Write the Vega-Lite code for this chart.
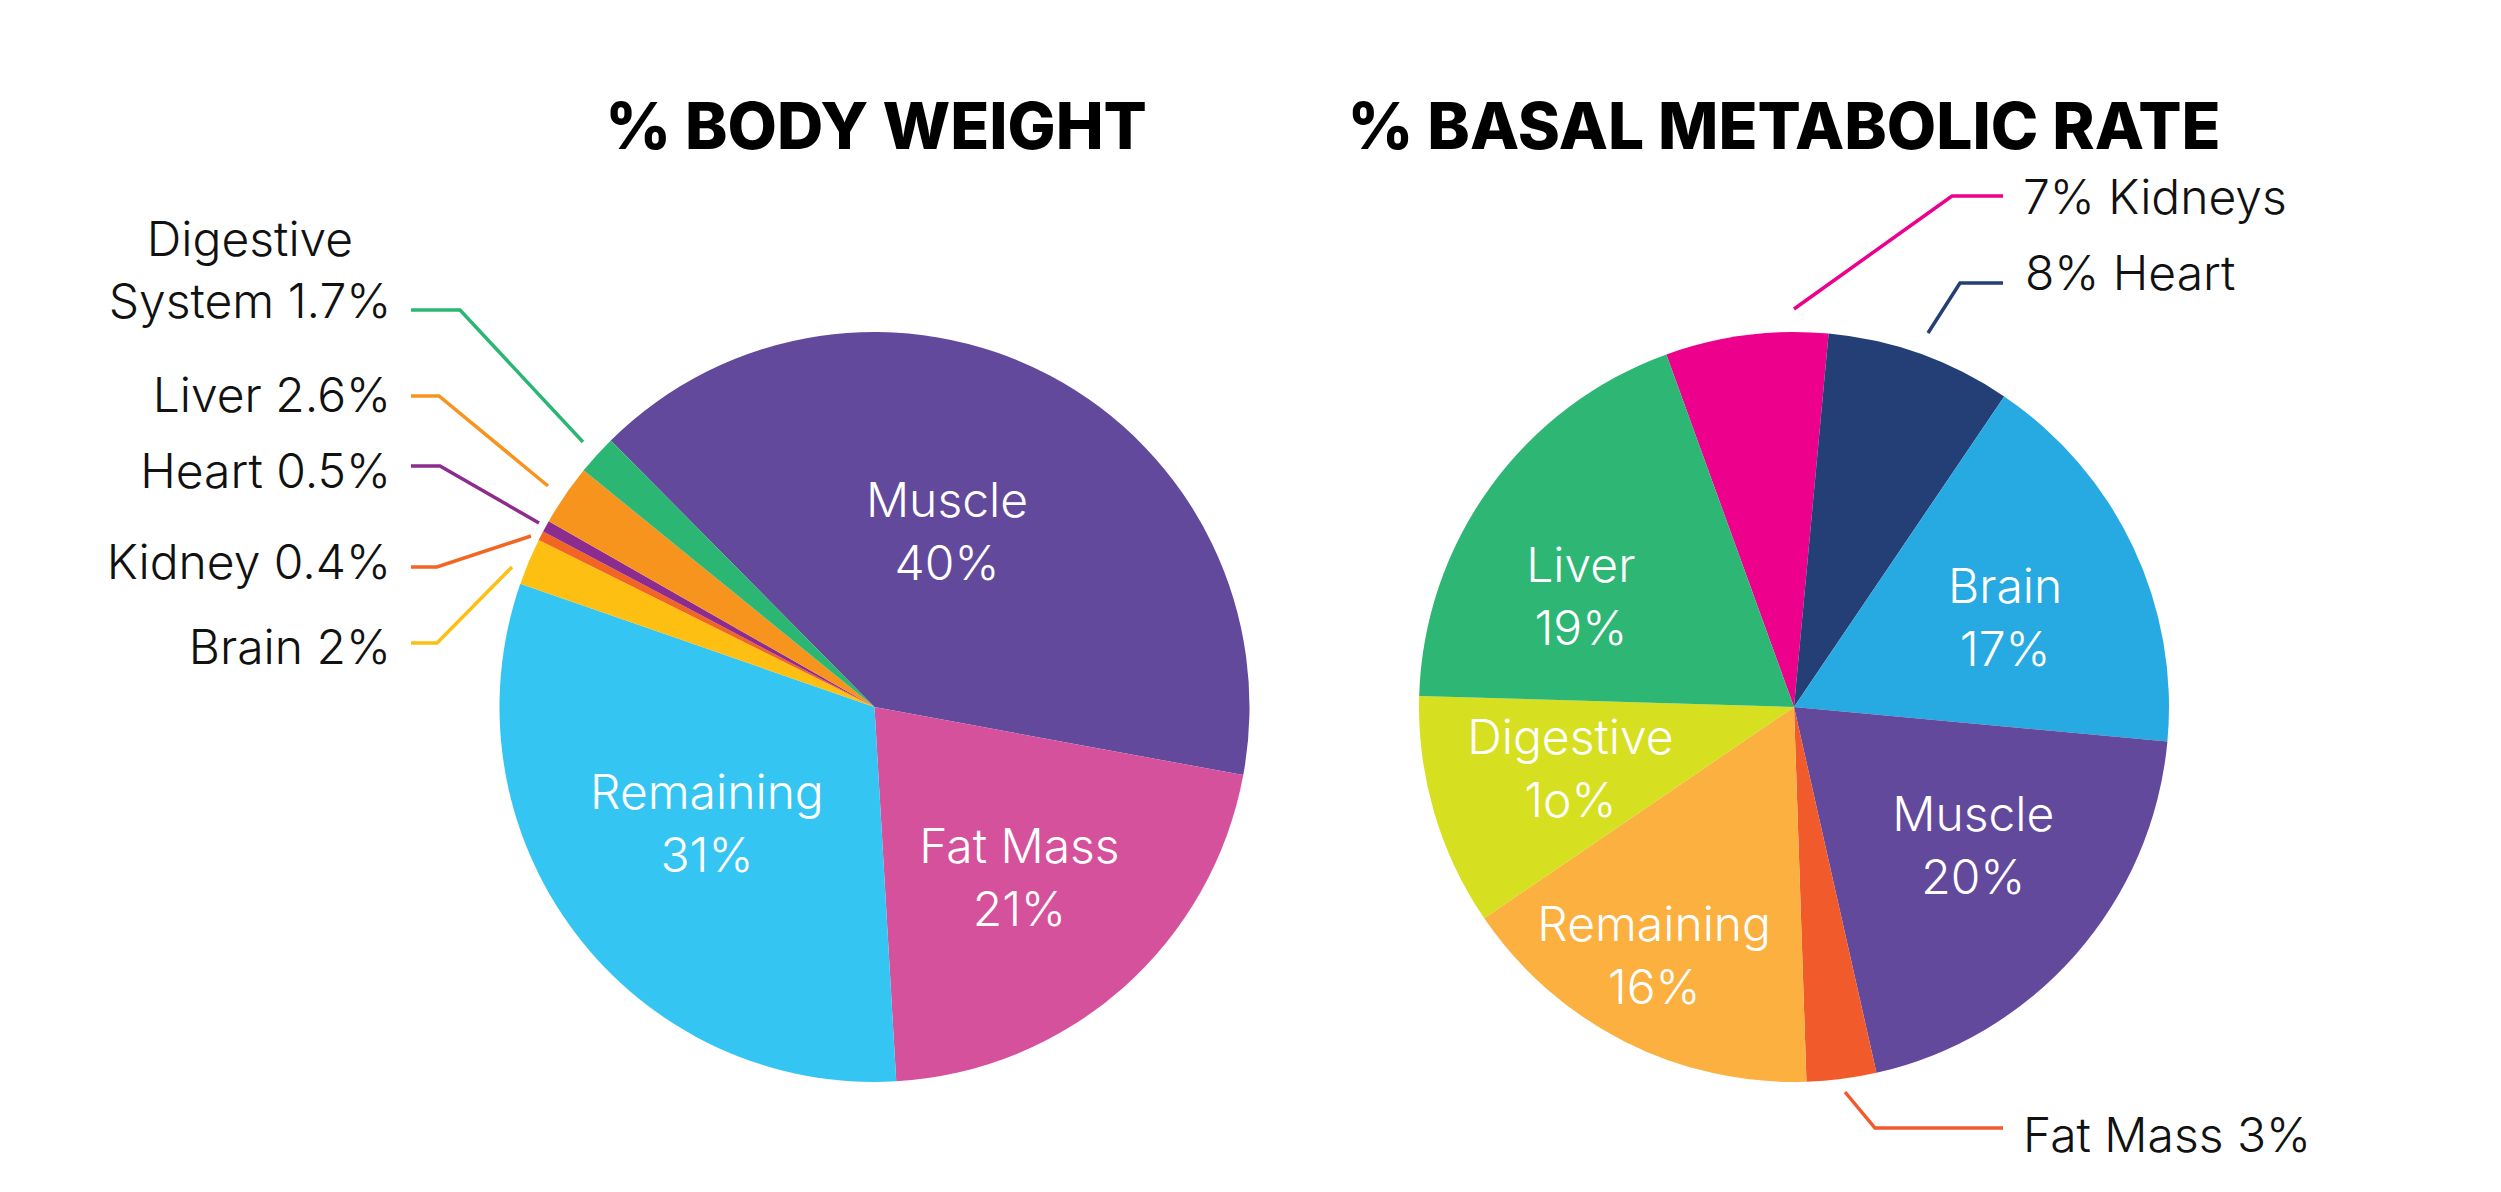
{
  "$schema": "https://vega.github.io/schema/vega-lite/v6.json",
  "width": 2501,
  "height": 1192,
  "autosize": {"type": "fit", "contains": "padding"},
  "padding": 0,
  "background": "white",
  "config": {"view": {"stroke": null}},
  "datasets": {
    "bw": [
      {"part": "Muscle", "pct": 40, "ord": 1, "label": "Muscle\n40%"},
      {"part": "Fat Mass", "pct": 21, "ord": 2, "label": "Fat Mass\n21%"},
      {"part": "Remaining", "pct": 31, "ord": 3, "label": "Remaining\n31%"},
      {"part": "Brain", "pct": 2, "ord": 4, "label": "Brain 2%"},
      {"part": "Kidney", "pct": 0.4, "ord": 5, "label": "Kidney 0.4%"},
      {"part": "Heart", "pct": 0.5, "ord": 6, "label": "Heart 0.5%"},
      {"part": "Liver", "pct": 2.6, "ord": 7, "label": "Liver 2.6%"},
      {"part": "Digestive System", "pct": 1.7, "ord": 8, "label": "Digestive\nSystem 1.7%"}
    ],
    "bmr": [
      {"part": "Kidneys", "pct": 7, "ord": 1, "label": "7% Kidneys"},
      {"part": "Heart", "pct": 8, "ord": 2, "label": "8% Heart"},
      {"part": "Brain", "pct": 17, "ord": 3, "label": "Brain\n17%"},
      {"part": "Muscle", "pct": 20, "ord": 4, "label": "Muscle\n20%"},
      {"part": "Fat Mass", "pct": 3, "ord": 5, "label": "Fat Mass 3%"},
      {"part": "Remaining", "pct": 16, "ord": 6, "label": "Remaining\n16%"},
      {"part": "Digestive", "pct": 10, "ord": 7, "label": "Digestive\n1o%"},
      {"part": "Liver", "pct": 19, "ord": 8, "label": "Liver\n19%"}
    ],
    "titles": [
      {"title": "% BODY WEIGHT", "x": 876, "y": 149},
      {"title": "% BASAL METABOLIC RATE", "x": 1784, "y": 149}
    ],
    "calloutsCentered": [
      {"text": "Digestive\nSystem 1.7%", "x": 250, "y": 256}
    ],
    "calloutsLeft": [
      {"text": "Liver 2.6%", "x": 391, "y": 412},
      {"text": "Heart 0.5%", "x": 391, "y": 488},
      {"text": "Kidney 0.4%", "x": 391, "y": 579},
      {"text": "Brain 2%", "x": 391, "y": 664}
    ],
    "calloutsRight": [
      {"text": "7% Kidneys", "x": 2023, "y": 214},
      {"text": "8% Heart", "x": 2025, "y": 290},
      {"text": "Fat Mass 3%", "x": 2023, "y": 1152}
    ],
    "leaders": [
      {"id": "bw Digestive System", "seq": 1, "x": 411, "y": 310},
      {"id": "bw Digestive System", "seq": 2, "x": 460, "y": 310},
      {"id": "bw Digestive System", "seq": 3, "x": 583, "y": 442},
      {"id": "bw Liver", "seq": 1, "x": 411, "y": 396},
      {"id": "bw Liver", "seq": 2, "x": 439, "y": 396},
      {"id": "bw Liver", "seq": 3, "x": 548, "y": 486},
      {"id": "bw Heart", "seq": 1, "x": 411, "y": 466},
      {"id": "bw Heart", "seq": 2, "x": 440, "y": 466},
      {"id": "bw Heart", "seq": 3, "x": 539, "y": 523},
      {"id": "bw Kidney", "seq": 1, "x": 411, "y": 567},
      {"id": "bw Kidney", "seq": 2, "x": 437, "y": 567},
      {"id": "bw Kidney", "seq": 3, "x": 531, "y": 536},
      {"id": "bw Brain", "seq": 1, "x": 411, "y": 643},
      {"id": "bw Brain", "seq": 2, "x": 437, "y": 643},
      {"id": "bw Brain", "seq": 3, "x": 512, "y": 567},
      {"id": "bmr Kidneys", "seq": 1, "x": 1794, "y": 309},
      {"id": "bmr Kidneys", "seq": 2, "x": 1952, "y": 196},
      {"id": "bmr Kidneys", "seq": 3, "x": 2003, "y": 196},
      {"id": "bmr Heart", "seq": 1, "x": 1928, "y": 333},
      {"id": "bmr Heart", "seq": 2, "x": 1960, "y": 283},
      {"id": "bmr Heart", "seq": 3, "x": 2003, "y": 283},
      {"id": "bmr Fat Mass", "seq": 1, "x": 1845, "y": 1092},
      {"id": "bmr Fat Mass", "seq": 2, "x": 1875, "y": 1128},
      {"id": "bmr Fat Mass", "seq": 3, "x": 2003, "y": 1128}
    ]
  },
  "resolve": {"scale": {"theta": "independent", "color": "independent"}},
  "layer": [
    {
      "data": {"name": "bw"},
      "encoding": {
        "x": {"datum": 874.5, "type": "quantitative", "scale": {"domain": [0, 2501], "nice": false, "zero": false}, "axis": null},
        "y": {"datum": 707, "type": "quantitative", "scale": {"domain": [0, 1192], "nice": false, "zero": false, "reverse": true}, "axis": null},
        "theta": {"field": "pct", "type": "quantitative", "stack": true, "scale": {"range": [5.5031, 11.7863]}},
        "order": {"field": "ord", "type": "quantitative"}
      },
      "layer": [
        {
          "mark": {"type": "arc", "radius": 375},
          "encoding": {
            "color": {
              "field": "part", "type": "nominal", "legend": null,
              "scale": {
                "domain": ["Muscle", "Fat Mass", "Remaining", "Brain", "Kidney", "Heart", "Liver", "Digestive System"],
                "range": ["#62499C", "#D5519C", "#35C5F3", "#FDBF12", "#F26522", "#8B2C8E", "#F7941E", "#2BB673"]
              }
            }
          }
        },
        {
          "mark": {"type": "text", "radius": 187, "dx": -15, "dy": -39, "lineBreak": "\n", "font": "Inter", "fontSize": 48, "fontWeight": 300, "lineHeight": 63, "fill": "white", "align": "center", "baseline": "middle"},
          "encoding": {"text": {"condition": {"test": "datum.part === 'Muscle'", "field": "label", "type": "nominal"}, "value": ""}}
        },
        {
          "mark": {"type": "text", "radius": 225, "dx": -4, "dy": -27, "lineBreak": "\n", "font": "Inter", "fontSize": 48, "fontWeight": 300, "lineHeight": 63, "fill": "white", "align": "center", "baseline": "middle"},
          "encoding": {"text": {"condition": {"test": "datum.part === 'Fat Mass'", "field": "label", "type": "nominal"}, "value": ""}}
        },
        {
          "mark": {"type": "text", "radius": 205, "dx": -4, "dy": -36, "lineBreak": "\n", "font": "Inter", "fontSize": 48, "fontWeight": 300, "lineHeight": 63, "fill": "white", "align": "center", "baseline": "middle"},
          "encoding": {"text": {"condition": {"test": "datum.part === 'Remaining'", "field": "label", "type": "nominal"}, "value": ""}}
        }
      ]
    },
    {
      "data": {"name": "bmr"},
      "encoding": {
        "x": {"datum": 1794, "type": "quantitative", "scale": {"domain": [0, 2501], "nice": false, "zero": false}, "axis": null},
        "y": {"datum": 707, "type": "quantitative", "scale": {"domain": [0, 1192], "nice": false, "zero": false, "reverse": true}, "axis": null},
        "theta": {"field": "pct", "type": "quantitative", "stack": true, "scale": {"range": [5.9358, 12.219]}},
        "order": {"field": "ord", "type": "quantitative"}
      },
      "layer": [
        {
          "mark": {"type": "arc", "radius": 375},
          "encoding": {
            "color": {
              "field": "part", "type": "nominal", "legend": null,
              "scale": {
                "domain": ["Kidneys", "Heart", "Brain", "Muscle", "Fat Mass", "Remaining", "Digestive", "Liver"],
                "range": ["#EC008C", "#233F76", "#27AAE1", "#62499C", "#F15A2B", "#FBB040", "#D7DF21", "#2DB674"]
              }
            }
          }
        },
        {
          "mark": {"type": "text", "radius": 236, "dx": -22, "dy": -1, "lineBreak": "\n", "font": "Inter", "fontSize": 48, "fontWeight": 300, "lineHeight": 63, "fill": "white", "align": "center", "baseline": "middle"},
          "encoding": {"text": {"condition": {"test": "datum.part === 'Liver'", "field": "label", "type": "nominal"}, "value": ""}}
        },
        {
          "mark": {"type": "text", "radius": 228, "dx": 5, "dy": -21, "lineBreak": "\n", "font": "Inter", "fontSize": 48, "fontWeight": 300, "lineHeight": 63, "fill": "white", "align": "center", "baseline": "middle"},
          "encoding": {"text": {"condition": {"test": "datum.part === 'Brain'", "field": "label", "type": "nominal"}, "value": ""}}
        },
        {
          "mark": {"type": "text", "radius": 233, "dx": 0, "dy": -32, "lineBreak": "\n", "font": "Inter", "fontSize": 48, "fontWeight": 300, "lineHeight": 63, "fill": "white", "align": "center", "baseline": "middle"},
          "encoding": {"text": {"condition": {"test": "datum.part === 'Digestive'", "field": "label", "type": "nominal"}, "value": ""}}
        },
        {
          "mark": {"type": "text", "radius": 228, "dx": 8, "dy": -40, "lineBreak": "\n", "font": "Inter", "fontSize": 48, "fontWeight": 300, "lineHeight": 63, "fill": "white", "align": "center", "baseline": "middle"},
          "encoding": {"text": {"condition": {"test": "datum.part === 'Muscle'", "field": "label", "type": "nominal"}, "value": ""}}
        },
        {
          "mark": {"type": "text", "radius": 287, "dx": -10, "dy": -36, "lineBreak": "\n", "font": "Inter", "fontSize": 48, "fontWeight": 300, "lineHeight": 63, "fill": "white", "align": "center", "baseline": "middle"},
          "encoding": {"text": {"condition": {"test": "datum.part === 'Remaining'", "field": "label", "type": "nominal"}, "value": ""}}
        }
      ]
    },
    {
      "data": {"name": "leaders"},
      "mark": {"type": "line", "strokeWidth": 3.5, "strokeCap": "butt", "strokeJoin": "miter"},
      "encoding": {
        "x": {"field": "x", "type": "quantitative", "scale": {"domain": [0, 2501], "nice": false, "zero": false}, "axis": null},
        "y": {"field": "y", "type": "quantitative", "scale": {"domain": [0, 1192], "nice": false, "zero": false, "reverse": true}, "axis": null},
        "order": {"field": "seq", "type": "quantitative"},
        "color": {
          "field": "id", "type": "nominal", "legend": null,
          "scale": {
            "domain": ["bw Digestive System", "bw Liver", "bw Heart", "bw Kidney", "bw Brain", "bmr Kidneys", "bmr Heart", "bmr Fat Mass"],
            "range": ["#2BB673", "#F7941E", "#8B2C8E", "#F26522", "#FDBF12", "#EC008C", "#233F76", "#F15A2B"]
          }
        }
      }
    },
    {
      "data": {"name": "calloutsCentered"},
      "mark": {"type": "text", "align": "center", "baseline": "alphabetic", "lineBreak": "\n", "font": "Inter", "fontSize": 48, "fontWeight": 300, "lineHeight": 62, "fill": "#111111"},
      "encoding": {
        "x": {"field": "x", "type": "quantitative", "scale": {"domain": [0, 2501], "nice": false, "zero": false}, "axis": null},
        "y": {"field": "y", "type": "quantitative", "scale": {"domain": [0, 1192], "nice": false, "zero": false, "reverse": true}, "axis": null},
        "text": {"field": "text", "type": "nominal"}
      }
    },
    {
      "data": {"name": "calloutsLeft"},
      "mark": {"type": "text", "align": "right", "baseline": "alphabetic", "lineBreak": "\n", "font": "Inter", "fontSize": 48, "fontWeight": 300, "lineHeight": 62, "fill": "#111111"},
      "encoding": {
        "x": {"field": "x", "type": "quantitative", "scale": {"domain": [0, 2501], "nice": false, "zero": false}, "axis": null},
        "y": {"field": "y", "type": "quantitative", "scale": {"domain": [0, 1192], "nice": false, "zero": false, "reverse": true}, "axis": null},
        "text": {"field": "text", "type": "nominal"}
      }
    },
    {
      "data": {"name": "calloutsRight"},
      "mark": {"type": "text", "align": "left", "baseline": "alphabetic", "lineBreak": "\n", "font": "Inter", "fontSize": 48, "fontWeight": 300, "lineHeight": 62, "fill": "#111111"},
      "encoding": {
        "x": {"field": "x", "type": "quantitative", "scale": {"domain": [0, 2501], "nice": false, "zero": false}, "axis": null},
        "y": {"field": "y", "type": "quantitative", "scale": {"domain": [0, 1192], "nice": false, "zero": false, "reverse": true}, "axis": null},
        "text": {"field": "text", "type": "nominal"}
      }
    },
    {
      "data": {"name": "titles"},
      "mark": {"type": "text", "align": "center", "baseline": "alphabetic", "font": "Inter", "fontSize": 64, "fontWeight": 800, "fill": "#000000"},
      "encoding": {
        "x": {"field": "x", "type": "quantitative", "scale": {"domain": [0, 2501], "nice": false, "zero": false}, "axis": null},
        "y": {"field": "y", "type": "quantitative", "scale": {"domain": [0, 1192], "nice": false, "zero": false, "reverse": true}, "axis": null},
        "text": {"field": "title", "type": "nominal"}
      }
    }
  ]
}
